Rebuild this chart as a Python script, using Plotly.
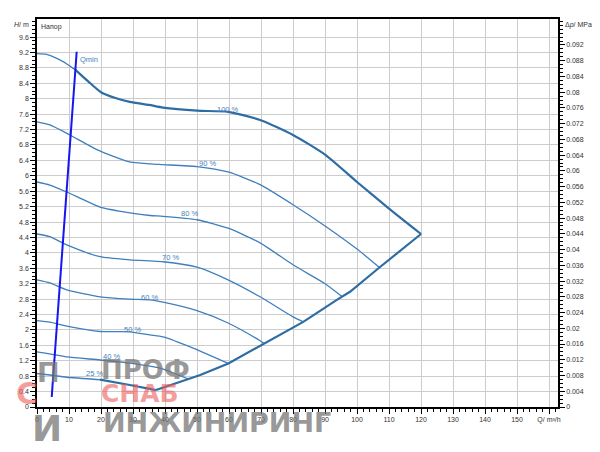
import plotly.graph_objects as go

# ---- data ----
Q100 = [0, 3, 8, 12, 16, 20, 24.5, 29, 35, 39.4, 50, 59.7, 69.7, 80, 90, 100, 109.7, 120]
H100 = [9.17, 9.15, 8.97, 8.75, 8.45, 8.17, 8.02, 7.92, 7.84, 7.77, 7.69, 7.66, 7.45, 7.06, 6.55, 5.84, 5.17, 4.49]
Q90 = [0, 4, 10.3, 18.7, 29, 35.3, 39.4, 50, 59.7, 69.7, 80, 90, 100, 107]
H90 = [7.4, 7.32, 7.06, 6.68, 6.36, 6.31, 6.29, 6.24, 6.1, 5.77, 5.25, 4.7, 4.1, 3.62]
Q80 = [0, 4, 9.3, 19.7, 29, 35.3, 39.4, 50, 59.7, 69.7, 80, 90, 95.3]
H80 = [5.84, 5.76, 5.58, 5.19, 5.04, 4.97, 4.95, 4.86, 4.64, 4.26, 3.69, 3.2, 2.87]
Q70 = [0, 4, 9.3, 19.7, 29, 35.3, 39.4, 50, 59.7, 69.7, 80, 83.2]
H70 = [4.49, 4.42, 4.21, 3.9, 3.82, 3.79, 3.77, 3.63, 3.3, 2.86, 2.34, 2.21]
Q60 = [0, 4, 9.3, 19.7, 29, 35.3, 39.4, 50, 59.7, 69.7, 71]
H60 = [3.3, 3.22, 3.04, 2.86, 2.80, 2.78, 2.72, 2.5, 2.18, 1.72, 1.65]
Q50 = [0, 4, 9.3, 19.7, 29, 35.3, 39.4, 48.8, 59.8]
H50 = [2.24, 2.2, 2.1, 1.96, 1.95, 1.87, 1.82, 1.53, 1.13]
Q40 = [0, 4, 9.3, 19.7, 29, 38.4, 47.5]
H40 = [1.43, 1.38, 1.30, 1.22, 1.14, 1.01, 0.72]
Q25 = [0, 4, 9.3, 19.7, 29, 37.2]
H25 = [0.87, 0.83, 0.77, 0.71, 0.57, 0.44]
QB = [37.2, 46.8, 51, 59.8, 71, 83.2, 93.7, 97.8, 107, 120]
HB = [0.44, 0.70, 0.83, 1.13, 1.65, 2.21, 2.78, 2.99, 3.62, 4.49]
QMIN_Q = [4.6, 12.4]
QMIN_H = [0.26, 9.22]

LABELS = ["100 %", "90 %", "80 %", "70 %", "60 %", "50 %", "40 %", "25 %"]
LABEL_Q = [59.7, 53.4, 47.5, 41.6, 35.3, 29.7, 23.4, 18.1]
LABEL_H = [7.73, 6.31, 5.01, 3.87, 2.85, 2.02, 1.32, 0.86]

X_TICKS = list(range(0, 170, 10))
X_TEXT = [str(v) for v in range(0, 160, 10)] + ["Q/ m³/h"]
Y_TICKS = [round(i * 0.4, 1) for i in range(25)]
Y2_TICKS = [round(i * 0.004, 3) for i in range(24)]

THICK = "#2e6da4"
THIN = "#3f7fbd"
TXT = "#333333"
FONT = "Liberation Sans, Arial, sans-serif"

fig = go.Figure()

def line(q, h, color, width):
    fig.add_trace(go.Scatter(x=q, y=h, mode="lines", line=dict(color=color, width=width, shape="spline", smoothing=0.6),
                             hoverinfo="skip", showlegend=False))

line(Q100[:4], H100[:4], THIN, 1.3)
line(Q100[3:], H100[3:], THICK, 2.2)
for q, h in [(Q90, H90), (Q80, H80), (Q70, H70), (Q60, H60), (Q50, H50), (Q40, H40)]:
    line(q, h, THIN, 1.3)
line(Q25[:4], H25[:4], THIN, 1.5)
line(Q25[3:], H25[3:], THICK, 2.2)
fig.add_trace(go.Scatter(x=QB, y=HB, mode="lines", line=dict(color=THICK, width=2.2),
                         hoverinfo="skip", showlegend=False))
fig.add_trace(go.Scatter(x=QMIN_Q, y=QMIN_H, mode="lines", line=dict(color="#1616f0", width=2),
                         hoverinfo="skip", showlegend=False))
fig.add_trace(go.Scatter(x=[0], y=[0], yaxis="y2", mode="markers", marker=dict(opacity=0),
                         hoverinfo="skip", showlegend=False))

for t, q, h in zip(LABELS, LABEL_Q, LABEL_H):
    fig.add_annotation(x=q, y=h, text=t, showarrow=False, font=dict(size=7.5, color=THIN, family=FONT),
                       xanchor="center", yanchor="middle")
fig.add_annotation(x=12.8, y=9.03, text="Qmin", showarrow=False, xanchor="left", yanchor="middle",
                   font=dict(size=7.5, color=THIN, family=FONT))

# axis titles
fig.add_annotation(xref="paper", yref="paper", x=-0.012, y=0.985, text="<i>H</i>/ m", showarrow=False,
                   xanchor="right", yanchor="middle", font=dict(size=7, color=TXT, family=FONT))
fig.add_annotation(xref="paper", yref="paper", x=1.01, y=0.985, text="Δ<i>p</i>/ MPa", showarrow=False,
                   xanchor="left", yanchor="middle", font=dict(size=7, color=TXT, family=FONT))
fig.add_annotation(xref="paper", yref="paper", x=0.004, y=0.98, text="Напор", showarrow=False,
                   xanchor="left", yanchor="middle", font=dict(size=7, color=TXT, family=FONT))

# watermark logo
GRAY = "rgba(120,120,120,0.75)"
RED = "rgba(235,90,90,0.6)"
LOGO_FONT = "DejaVu Sans, sans-serif"
fig.add_annotation(xref="paper", yref="paper", x=0.2075, y=0.095, text="<b>ПРОФ</b>", showarrow=False,
                   xanchor="center", yanchor="middle", font=dict(size=26, color=GRAY, family=LOGO_FONT))
fig.add_annotation(xref="paper", yref="paper", x=0.198, y=0.036, text="<b>СНАБ</b>", showarrow=False,
                   xanchor="center", yanchor="middle", font=dict(size=25, color=RED, family=LOGO_FONT))
fig.add_annotation(xref="paper", yref="paper", x=0.3455, y=-0.04, text="<b>ИНЖИНИРИНГ</b>", showarrow=False,
                   xanchor="center", yanchor="middle", font=dict(size=27, color=GRAY, family=LOGO_FONT))
fig.add_annotation(xref="paper", yref="paper", x=0.022, y=0.09, text="<b>П</b>", showarrow=False,
                   xanchor="center", yanchor="middle", font=dict(size=27, color=GRAY, family=LOGO_FONT))
fig.add_annotation(xref="paper", yref="paper", x=-0.02, y=0.035, text="<b>С</b>", showarrow=False,
                   xanchor="center", yanchor="middle", font=dict(size=30, color=RED, family=LOGO_FONT))
fig.add_annotation(xref="paper", yref="paper", x=0.02, y=-0.055, text="<b>И</b>", showarrow=False,
                   xanchor="center", yanchor="middle", font=dict(size=36, color=GRAY, family=LOGO_FONT))

axis_common = dict(ticks="outside", tickcolor="black", linecolor="black", showline=True, zeroline=False,
                   automargin=False, tickfont=dict(size=7, color=TXT, family=FONT))

fig.update_layout(
    width=592, height=444,
    margin=dict(l=29, r=42, t=11, b=45),
    paper_bgcolor="white", plot_bgcolor="white",
    showlegend=False,
    xaxis=dict(range=[0, 162.8], tickmode="array", tickvals=X_TICKS, ticktext=X_TEXT, ticklen=5,
               linewidth=1.5, mirror=True, showgrid=True, gridcolor="#cccccc", gridwidth=1,
               minor=dict(dtick=2, tick0=0, ticks="outside", ticklen=3, tickcolor="black", showgrid=False),
               **axis_common),
    yaxis=dict(range=[0, 10.07], tickmode="array", tickvals=Y_TICKS, ticktext=[f"{v:g}" for v in Y_TICKS],
               ticklen=5, linewidth=1.5, showgrid=True, gridcolor="#cccccc", gridwidth=1,
               minor=dict(dtick=0.1, tick0=0, ticks="outside", ticklen=3, tickcolor="black", showgrid=False),
               **axis_common),
    yaxis2=dict(range=[0, 0.0986], overlaying="y", side="right", tickmode="array", tickvals=Y2_TICKS,
                ticktext=[f"{v:g}" for v in Y2_TICKS], ticklen=5, linewidth=1.5, showgrid=False,
                minor=dict(dtick=0.001, tick0=0, ticks="outside", ticklen=3, tickcolor="black", showgrid=False),
                **axis_common),
)

fig.write_html("out.html")
